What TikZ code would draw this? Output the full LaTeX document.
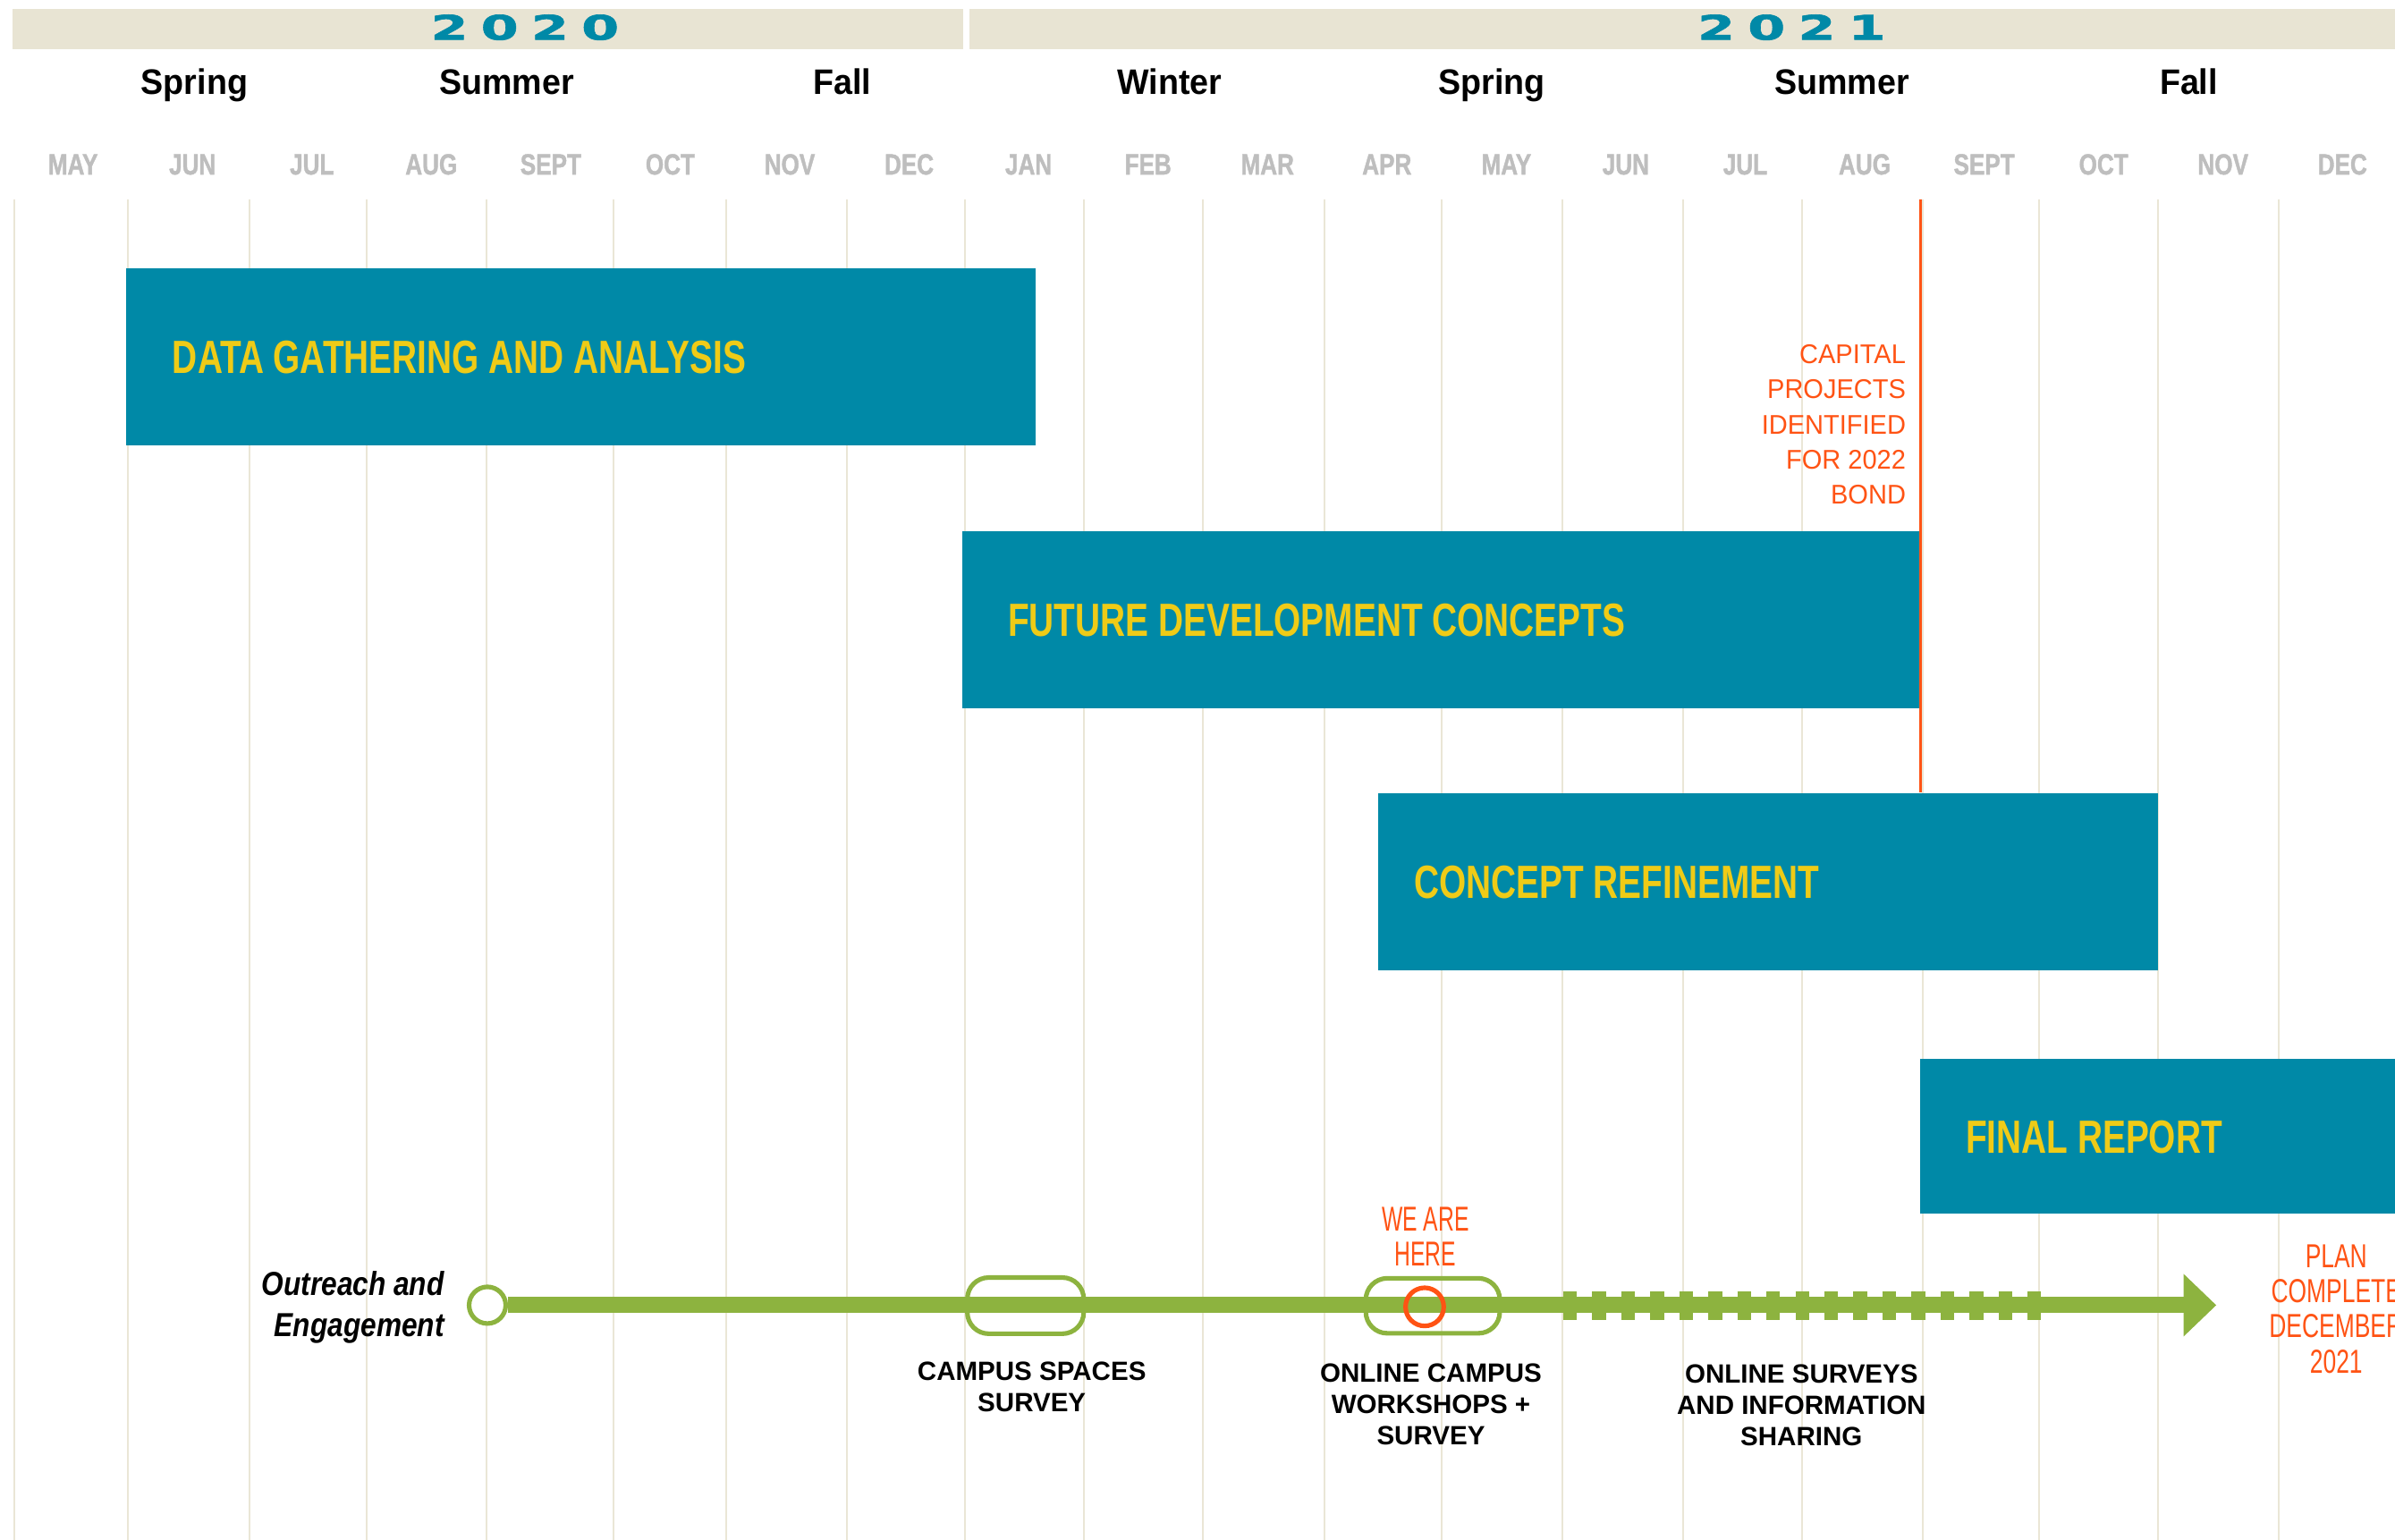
\documentclass[tikz,border=0pt]{standalone}
\usepackage{fontspec}
\setmainfont{Liberation Sans}
\newfontfamily\barfont{Liberation Sans}[FakeStretch=0.745]
\newfontfamily\seasonfont{Liberation Sans}[FakeStretch=0.95]
\newfontfamily\monthfont{Liberation Sans}[FakeStretch=0.80, FakeBold=1.2]
\newfontfamily\capfont{Liberation Sans}[FakeStretch=0.96]
\newfontfamily\herefont{Liberation Sans}[FakeStretch=0.64]
\newfontfamily\planfont{Liberation Sans}[FakeStretch=0.71]
\newfontfamily\outfont{Liberation Sans}[FakeStretch=0.85]
\newfontfamily\yearfont{DejaVu Sans}[FakeStretch=1.6, FakeBold=1.5]
\usetikzlibrary{fit,arrows.meta}
\definecolor{cTeal}{HTML}{0089A7}
\definecolor{cYel}{HTML}{EFCB17}
\definecolor{cTan}{HTML}{E8E4D3}
\definecolor{cGrid}{HTML}{EAE6D6}
\definecolor{cGreen}{HTML}{8DB33F}
\definecolor{cOrange}{HTML}{FF5314}
\definecolor{cMonth}{HTML}{BEBEBE}
\tikzset{
  gridline/.style={draw=cGrid, line width=0.6pt},
  band/.style={fill=cTan, draw=none, inner sep=0pt},
  bar/.style={fill=cTeal, draw=none, inner sep=0pt},
  barlabel/.style={font=\barfont\bfseries\fontsize{15.25}{18}\selectfont, text=cYel, inner sep=0pt, anchor=base west},
  yeartext/.style={font=\yearfont\bfseries\fontsize{11.1}{13}\selectfont, text=cTeal, inner sep=0pt, anchor=base},
  season/.style={font=\seasonfont\bfseries\fontsize{11.6}{14}\selectfont, text=black, inner sep=0pt, anchor=base},
  month/.style={font=\monthfont\bfseries\fontsize{9.55}{12}\selectfont, text=cMonth, inner sep=0pt, anchor=base},
  capnote/.style={font=\capfont\fontsize{8.85}{11.45}\selectfont, text=cOrange, align=right, inner sep=0pt, anchor=base east},
  herenote/.style={font=\herefont\fontsize{11.3}{11.4}\selectfont, text=cOrange, align=center, inner sep=0pt, anchor=base},
  plannote/.style={font=\planfont\fontsize{10.9}{11.5}\selectfont, text=cOrange, align=center, inner sep=0pt, anchor=base},
  outnote/.style={font=\outfont\bfseries\itshape\fontsize{10.9}{13.4}\selectfont, text=black, align=right, inner sep=0pt, anchor=base east},
  evlabel/.style={font=\bfseries\fontsize{8.65}{10.25}\selectfont, text=black, align=center, inner sep=0pt, anchor=base},
  greenline/.style={draw=cGreen, line width=5.3pt},
  startc/.style={circle, draw=cGreen, fill=white, line width=1.5pt, minimum size=12pt, inner sep=0pt},
  pill/.style={draw=cGreen, line width=1.5pt, rounded corners=7pt, inner sep=0pt},
  herec/.style={circle, draw=cOrange, line width=1.5pt, minimum size=12.5pt, inner sep=0pt},
  bondline/.style={draw=cOrange, line width=0.9pt}
}
\begin{document}
\begin{tikzpicture}[x=0.5pt, y=-0.5pt]
\useasboundingbox (0,0) rectangle (1568,1008);
\fill[white] (0,0) rectangle (1568,1008);
% header bands
\node[band, fit={(8.2,5.9) (630.5,32.2)}] (b2020) {};
\node[band, fit={(634.6,5.9) (1568,32.2)}] (b2021) {};
\node[yeartext] (y2020) at (343.6,26) {2\hspace{4.1pt}0\hspace{4.1pt}2\hspace{4.1pt}0};
\node[yeartext] (y2021) at (1173,26) {2\hspace{4.1pt}0\hspace{4.1pt}2\hspace{4.1pt}1};
% seasons
\node[season] (s1) at (127.3,61.5) {Spring};
\node[season] (s2) at (331.7,61.5) {Summer};
\node[season] (s3) at (551.5,61.5) {Fall};
\node[season] (s4) at (765.7,61.5) {Winter};
\node[season] (s5) at (976.8,61.5) {Spring};
\node[season] (s6) at (1205.9,61.5) {Summer};
\node[season] (s7) at (1433,61.5) {Fall};
% months
\foreach \m [count=\i from 0] in {MAY,JUN,JUL,AUG,SEPT,OCT,NOV,DEC,JAN,FEB,MAR,APR,MAY,JUN,JUL,AUG,SEPT,OCT,NOV,DEC}
  \node[month] (m\i) at ({47.8+78.2*\i},114.2) {\m};
% grid lines
\foreach \gx in {9.4,83.5,163.2,240,318.4,401.7,475.3,554.5,631.8,709.8,787.6,866.9,943.9,1022.7,1102,1179.7,1258.7,1335,1413,1491.9}
  \draw[gridline] (\gx,130.7) -- (\gx,1008);
% bars
\node[bar, fit={(82.6,175.7) (678,291.3)}] (data) {};
\node[barlabel] (dataL) at (112.6,244.6) {DATA GATHERING AND ANALYSIS};
\node[bar, fit={(629.8,347.8) (1256.8,463.5)}] (future) {};
\node[barlabel] (futureL) at (659.6,416.3) {FUTURE DEVELOPMENT CONCEPTS};
\node[bar, fit={(902,519.3) (1412.7,635.3)}] (concept) {};
\node[barlabel] (conceptL) at (925.5,588.3) {CONCEPT REFINEMENT};
\node[bar, fit={(1257,693.3) (1568,794.5)}] (final) {};
\node[barlabel] (finalL) at (1286.6,754.9) {FINAL REPORT};
% bond milestone
\coordinate (bondtop) at (1257.6,130.8);
\draw[bondline] (bondtop) -- (bondtop |- concept.north);
\node[capnote] (bond) at (1248.1,329.8) {CAPITAL\\PROJECTS\\IDENTIFIED\\FOR 2022\\BOND};
% outreach line
\node[outnote] (outreach) at (291.2,874.8) {Outreach and\\Engagement};
\coordinate (tip) at (1451,854.5);
\coordinate (dashA) at (1023.4,854.9);
\coordinate (dashB) at (1336.5,854.9);
\node[startc] (start) at (319.1,854.5) {};
\draw[greenline, -{Triangle[length=10.7pt, width=19.8pt]}] (start.east) -- (tip);
\draw[greenline, line width=9.35pt, dash pattern=on 4.5pt off 5pt] (dashA) -- (dashB);
\node[pill, fit={(633.3,836.4) (709.5,873.2)}] (campus) {};
\node[pill, fit={(894.2,836.9) (981.9,872.9)}] (online) {};
\node[herec] (here) at (932.7,855.6) {};
\node[herenote] (hereL) at (933.2,828.5) {WE ARE\\HERE};
\node[evlabel] (campusL) at (675.5,924.1) {CAMPUS SPACES\\SURVEY};
\node[evlabel] (onlineL) at (936.8,945.6) {ONLINE CAMPUS\\WORKSHOPS +\\SURVEY};
\node[evlabel] (surveysL) at (1179.4,946.6) {ONLINE SURVEYS\\AND INFORMATION\\SHARING};
\node[plannote] (plan) at (1529.5,898.8) {PLAN\\COMPLETE\\DECEMBER\\2021};
\end{tikzpicture}
\end{document}
